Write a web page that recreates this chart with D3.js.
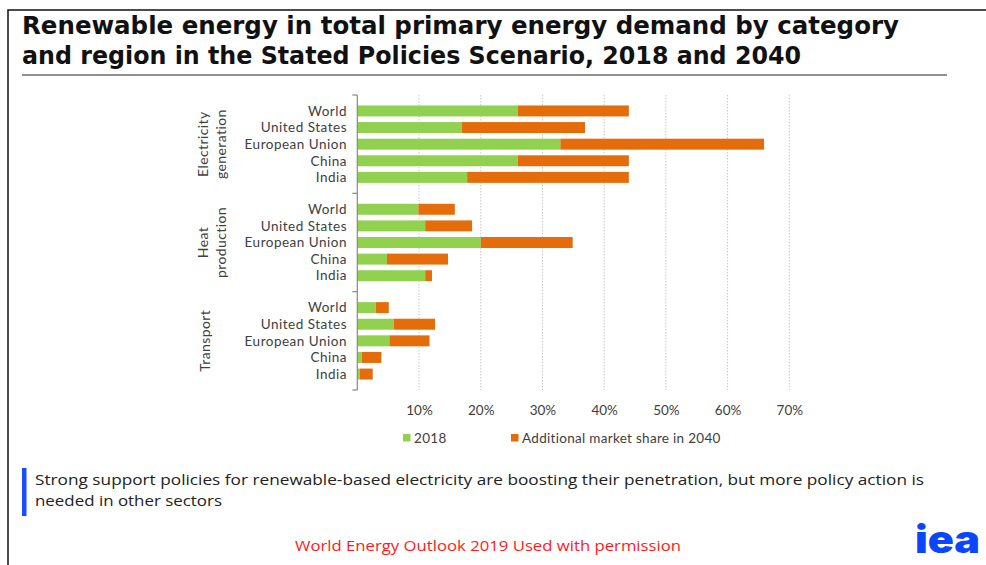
<!DOCTYPE html>
<html>
<head>
<meta charset="utf-8">
<script src="https://cdn.jsdelivr.net/npm/d3@7"></script>
<style>
  body { margin: 0; background: #fff; }
  svg { display: block; }
</style>
</head>
<body>
<div id="chart"></div>
<script>
// data (percent of total primary energy demand)
const categories = ["Electricity generation", "Heat production", "Transport"];
const categoryLines = [["Electricity", "generation"], ["Heat", "production"], ["Transport"]];
const regions = ["World", "United States", "European Union", "China", "India"];

const share2018 = [
  [26.0, 16.9, 32.9, 26.0, 17.8],
  [9.9, 11.0, 20.0, 4.8, 11.0],
  [3.0, 5.9, 5.2, 0.7, 0.4]
];
const additional2040 = [
  [18.0, 20.0, 33.0, 18.0, 26.2],
  [5.9, 7.6, 14.9, 9.9, 1.1],
  [2.1, 6.7, 6.5, 3.2, 2.1]
];

const xTicks = [10, 20, 30, 40, 50, 60, 70];
const seriesNames = ["2018", "Additional market share in 2040"];
const seriesColors = ["#92d050", "#e46c0a"];

const titleLines = [
  "Renewable energy in total primary energy demand by category",
  "and region in the Stated Policies Scenario, 2018 and 2040"
];
const noteLines = [
  "Strong support policies for renewable-based electricity are boosting their penetration, but more policy action is",
  "needed in other sectors"
];
const sourceText = "World Energy Outlook 2019 Used with permission";

const W = 986, H = 565;
const labelFont = "Lato";
const svg = d3.select("#chart").append("svg").attr("width", W).attr("height", H);

// frame (top + left only)
svg.append("path")
  .attr("d", `M8,${H} L8,10 L${W},10`)
  .attr("fill", "none").attr("stroke", "#111").attr("stroke-width", 1.5);

// title
svg.append("g").selectAll("text").data(titleLines).join("text")
  .attr("x", 22).attr("y", (d, i) => 34 + i * 30)
  .attr("font-family", "DejaVu Sans").attr("font-weight", "bold")
  .attr("font-size", 25).attr("fill", "#111")
  .attr("textLength", (d, i) => i === 0 ? 877 : 779)
  .attr("lengthAdjust", "spacingAndGlyphs")
  .text(d => d);

svg.append("line").attr("x1", 22).attr("x2", 947).attr("y1", 75).attr("y2", 75)
  .attr("stroke", "#222").attr("stroke-width", 1.2);

// scales
const x = d3.scaleLinear().domain([0, 70]).range([357.3, 789.3]);
const yOuter = d3.scaleBand().domain(categories).range([95, 390]);
const yInner = d3.scaleBand().domain(regions).range([0, yOuter.bandwidth()])
  .paddingInner(0.34).paddingOuter(0.63);

const plotg = svg.append("g").attr("class", "plot-g");

// gridlines
plotg.selectAll(".grid").data(xTicks).join("line")
  .attr("class", "grid")
  .attr("x1", d => x(d)).attr("x2", d => x(d))
  .attr("y1", 95).attr("y2", 390)
  .attr("stroke", "#c8c8c8").attr("stroke-width", 1)
  .attr("stroke-dasharray", "1.5,1.5");

// bars
const rows = [];
categories.forEach((c, ci) => {
  regions.forEach((r, ri) => {
    rows.push({ cat: c, region: r, v0: share2018[ci][ri], v1: additional2040[ci][ri] });
  });
});

const rowg = plotg.selectAll(".row").data(rows).join("g")
  .attr("class", "row")
  .attr("transform", d => `translate(0,${yOuter(d.cat) + yInner(d.region)})`);

rowg.append("rect")
  .attr("x", x(0)).attr("y", 0)
  .attr("width", d => x(d.v0) - x(0))
  .attr("height", yInner.bandwidth())
  .attr("fill", seriesColors[0]);

rowg.append("rect")
  .attr("x", d => x(d.v0)).attr("y", 0)
  .attr("width", d => x(d.v0 + d.v1) - x(d.v0))
  .attr("height", yInner.bandwidth())
  .attr("fill", seriesColors[1]);

rowg.append("text")
  .attr("x", 347).attr("y", yInner.bandwidth() / 2)
  .attr("dy", "0.35em").attr("text-anchor", "end")
  .attr("font-family", labelFont).attr("font-size", 13.5).attr("fill", "#404040")
  .attr("letter-spacing", 0.5)
  .text(d => d.region);

// left axis line with group ticks
const yaxisg = svg.append("g").attr("class", "y-axis-g");
yaxisg.append("line").attr("x1", x(0)).attr("x2", x(0)).attr("y1", 95).attr("y2", 390)
  .attr("stroke", "#888").attr("stroke-width", 1.2);
const bounds = categories.map(c => yOuter(c)).concat([yOuter.range()[1]]);
yaxisg.selectAll(".gtick").data(bounds).join("line")
  .attr("class", "gtick")
  .attr("x1", x(0) - 5).attr("x2", x(0))
  .attr("y1", d => d).attr("y2", d => d)
  .attr("stroke", "#888").attr("stroke-width", 1.2);

// category labels, rotated
categories.forEach((c, ci) => {
  const cy = yOuter(c) + yOuter.bandwidth() / 2;
  const lines = categoryLines[ci];
  const t = yaxisg.append("text")
    .attr("transform", `translate(${lines.length === 1 ? 205 : 203},${cy}) rotate(-90)`)
    .attr("text-anchor", "middle")
    .attr("font-family", labelFont).attr("font-size", 14).attr("fill", "#404040")
    .attr("letter-spacing", 0.4);
  lines.forEach((ln, li) => {
    t.append("tspan").attr("x", 0).attr("dy", li === 0 ? "0.35em" : "1.3em").text(ln);
  });
});

// x axis labels
const xAxis = d3.axisBottom(x).tickValues(xTicks).tickFormat(d => d + "%").tickSize(0).tickPadding(15);
const xaxisg = svg.append("g").attr("class", "x-axis-g").attr("transform", "translate(0,390)").call(xAxis);
xaxisg.select(".domain").remove();
xaxisg.selectAll("text")
  .attr("font-family", labelFont).attr("font-size", 13.5).attr("fill", "#404040");

// legend
const legendX = [403, 511];
const legend = svg.append("g").selectAll("g").data(seriesNames).join("g")
  .attr("transform", (d, i) => `translate(${legendX[i]},434)`);
legend.append("rect").attr("width", 7.5).attr("height", 7.5).attr("fill", (d, i) => seriesColors[i]);
legend.append("text").attr("x", 11).attr("y", 4).attr("dy", "0.35em")
  .attr("font-family", labelFont).attr("font-size", 13.5).attr("fill", "#404040")
  .attr("letter-spacing", 0.3)
  .text(d => d);

// note with blue bar
svg.append("rect").attr("x", 22).attr("y", 468).attr("width", 4.5).attr("height", 48).attr("fill", "#1a4dff");
svg.append("g").selectAll("text").data(noteLines).join("text")
  .attr("x", 35).attr("y", (d, i) => 485 + i * 21)
  .attr("font-family", "Open Sans").attr("font-size", 15).attr("fill", "#222")
  .attr("textLength", (d, i) => i === 0 ? 889 : 187)
  .attr("lengthAdjust", "spacingAndGlyphs")
  .text(d => d);

// source line
svg.append("text").attr("x", 488).attr("y", 551).attr("text-anchor", "middle")
  .attr("font-family", "Open Sans").attr("font-size", 15).attr("fill", "#ff1a1a")
  .attr("textLength", 386).attr("lengthAdjust", "spacingAndGlyphs")
  .text(sourceText);

// logo
svg.append("text").attr("x", 915).attr("y", 553)
  .attr("font-family", "Inter").attr("font-weight", 900).attr("font-size", 38).attr("fill", "#0a46ff")
  .attr("textLength", 65).attr("lengthAdjust", "spacingAndGlyphs")
  .text("iea");
</script>
</body>
</html>
